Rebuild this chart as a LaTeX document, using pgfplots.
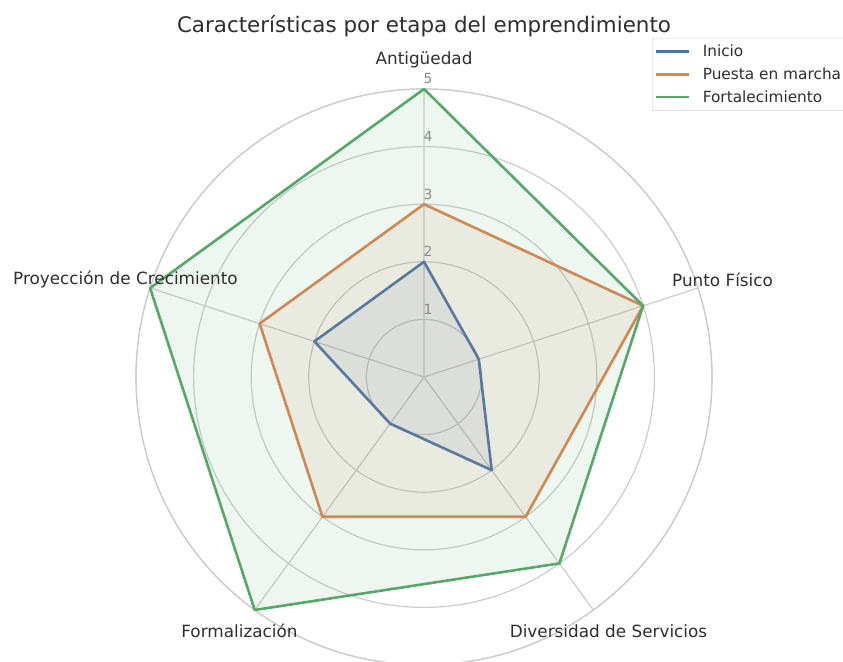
\documentclass[border=0pt]{standalone}
\usepackage{pgfplots}
\pgfplotsset{compat=1.18}
\usepgfplotslibrary{polar}
\usepackage{fontspec}
\setmainfont{DejaVu Sans}
\definecolor{cblue}{HTML}{4C72B0}
\definecolor{corange}{HTML}{DD8452}
\definecolor{cgreen}{HTML}{55A868}
\definecolor{txt}{HTML}{2E2E2E}
\definecolor{gridc}{HTML}{CCCCCC}
\definecolor{rlab}{HTML}{8A8A8A}
\begin{document}
\begin{tikzpicture}
\path[use as bounding box] (0bp,0bp) rectangle (843bp,662bp);
\begin{polaraxis}[
  at={(424bp,285bp)}, anchor=center,
  scale only axis, width=576bp, height=576bp,
  clip=false,
  ymin=0, ymax=5,
  xtick={18,90,162,234,306}, xticklabels={},
  ytick={1,2,3,4,5}, yticklabels={},
  major tick length=0pt,
  xmajorgrids, ymajorgrids,
  major grid style={draw=gridc, line width=1.2bp},
  x axis line style={draw=gridc, line width=1.2bp},
  y axis line style={draw=none},
  legend style={at={(0.8958,1.0885)}, anchor=north west,
    draw=gridc, rounded corners=2bp, fill=white,
    font=\fontsize{15.4}{18}\selectfont, text=txt,
    inner xsep=3bp, inner ysep=5bp, row sep=5.5bp},
  legend cell align=left,
  legend image code/.code={\draw[#1, fill=none, line width=2.6bp] (0bp,0bp) -- (33bp,0bp); \path (43bp,0bp);},
]
\addplot[color=cblue, line width=2.6bp, fill=cblue, fill opacity=0.1, draw opacity=1, line join=round]
  coordinates {(90,2) (18,1) (306,2) (234,1) (162,2)} -- cycle;
\addlegendentry{Inicio}
\addplot[color=corange, line width=2.6bp, fill=corange, fill opacity=0.1, draw opacity=1, line join=round]
  coordinates {(90,3) (18,4) (306,3) (234,3) (162,3)} -- cycle;
\addlegendentry{Puesta en marcha}
\addplot[color=cgreen, line width=2.6bp, fill=cgreen, fill opacity=0.1, draw opacity=1, line join=round]
  coordinates {(90,5) (18,4) (306,4) (234,5) (162,5)} -- cycle;
\addlegendentry{Fortalecimiento}
\begin{scope}[every node/.style={font=\fontsize{16.9}{20}\selectfont, text=txt, anchor=center, inner sep=0pt}]
\node at (axis cs:90,5.5) {Antigüedad};
\node at (axis cs:18,5.45) {Punto Físico};
\node at (axis cs:306,5.45) {Diversidad de Servicios};
\node at (axis cs:234,5.45) {Formalización};
\node at (axis cs:162,5.45) {Proyección de Crecimiento};
\end{scope}
\begin{scope}[every node/.style={font=\fontsize{14}{16}\selectfont, text=rlab, anchor=center, inner sep=0pt, xshift=4bp, yshift=10bp}]
\node at (axis cs:90,1) {1};
\node at (axis cs:90,2) {2};
\node at (axis cs:90,3) {3};
\node at (axis cs:90,4) {4};
\node at (axis cs:90,5) {5};
\end{scope}
\end{polaraxis}
\node[font=\fontsize{21.5}{25}\selectfont, text=txt, anchor=center] at (424bp,636bp) {Características por etapa del emprendimiento};
\end{tikzpicture}
\end{document}
